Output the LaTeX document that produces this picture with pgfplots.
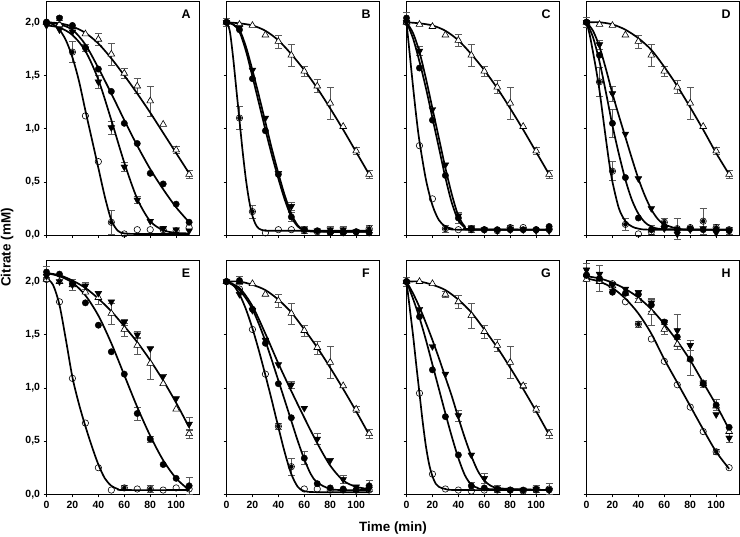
\documentclass[border=0pt]{standalone}
\usepackage{fontspec}
\setmainfont{Liberation Sans}
\usepackage{pgfplots}
\pgfplotsset{compat=1.18}
\definecolor{errc}{gray}{0.35}
\pgfplotsset{
  panel/.style={width=153bp,height=234bp,scale only axis,anchor=north west,
    xmin=0,xmax=118,ymin=0,ymax=2.2,
    xtick={0,20,40,60,80,100}, ytick={0,0.5,1,1.5,2},
    tick pos=left, tick align=outside, major tick length=3bp,
    every tick/.style={black,line width=0.6pt},
    axis line style={line width=0.7pt},
    clip=false,
    ticklabel style={font=\fontsize{10.5}{12}\selectfont\bfseries},
    /pgf/number format/assume math mode=true,
    yticklabel style={/pgf/number format/.cd,fixed,fixed zerofill,precision=1,use comma},
  },
  nox/.style={xticklabels={}}, noy/.style={yticklabels={}},
  oc/.style={only marks,mark=o,mark size=3.2bp,mark options={draw=black,fill=white,line width=0.6pt}},
  fc/.style={only marks,mark=*,mark size=3.2bp,mark options={draw=black,fill=black}},
  dt/.style={only marks,mark=triangle*,mark size=3.9bp,mark options={rotate=180,draw=black,fill=black}},
  ut/.style={only marks,mark=triangle*,mark size=3.9bp,mark options={draw=black,fill=white,line width=0.6pt}},
  fit/.style={black,line width=1.7pt,smooth,no marks},
  errp/.style={only marks,mark=none,error bars/.cd,y dir=both,y explicit,
    error bar style={errc,line width=0.6pt},
    error mark options={rotate=90,errc,mark size=3.6bp,line width=0.6pt}},
}
\newcommand{\plab}[1]{\node[font=\fontsize{12.5}{14}\selectfont\bfseries] at (rel axis cs:0.912,0.944) {#1};}
\begin{document}
\begin{tikzpicture}
\path[use as bounding box] (0,0) rectangle (740bp,-537bp);
% ---------------- A
\begin{axis}[panel,nox,at={(46.5bp,-1bp)}]
\addplot[errp] coordinates {(20,1.72)+-(0,0.1) (50,0.12)+-(0,0.11) (40,1.44)+-(0,0.06) (50,1.01)+-(0,0.06) (60,0.64)+-(0,0.04) (70,0.33)+-(0,0.03) (40,1.84)+-(0,0.06) (50,1.70)+-(0,0.1) (60,1.52)+-(0,0.05) (70,1.40)+-(0,0.07) (80,1.26)+-(0,0.14) (100,0.80)+-(0,0.03) (110,0.57)+-(0,0.04) (10,2.04)+-(0,0.02) (30,1.76)+-(0,0.03) (90,0.06)+-(0,0.02)};
\addplot[fit] coordinates {(0,2.0)(5,1.98)(10,1.93)(15,1.83)(20,1.67)(25,1.45)(30,1.17)(35,0.9)(40,0.63)(45,0.36)(50,0.14)(55,0.04)(60,0.015)(70,0.01)(110,0.01)};
\addplot[fit] coordinates {(0,1.97)(10,1.95)(20,1.88)(30,1.73)(40,1.46)(50,1.08)(60,0.68)(70,0.34)(80,0.13)(90,0.045)(100,0.02)(110,0.015)};
\addplot[fit] coordinates {(0,2.0)(10,1.98)(20,1.93)(30,1.79)(40,1.57)(50,1.33)(60,1.08)(70,0.84)(80,0.62)(90,0.43)(100,0.26)(110,0.12)};
\addplot[fit] coordinates {(0,2.0)(10,1.99)(20,1.96)(30,1.90)(40,1.80)(50,1.66)(60,1.50)(70,1.33)(80,1.15)(90,0.96)(100,0.77)(110,0.58)};
\addplot[ut] coordinates {(0,2.0)(10,1.98)(20,1.96)(30,1.89)(40,1.84)(50,1.70)(60,1.52)(70,1.40)(80,1.26)(90,1.04)(100,0.80)(110,0.57)};
\addplot[fc] coordinates {(0,2.0)(10,2.04)(20,1.97)(30,1.76)(40,1.56)(50,1.35)(60,1.05)(70,0.86)(80,0.58)(90,0.48)(100,0.29)(110,0.12)};
\addplot[dt] coordinates {(0,1.97)(10,1.93)(20,1.91)(30,1.75)(40,1.44)(50,1.01)(60,0.64)(70,0.33)(80,0.13)(90,0.06)(100,0.05)(110,0.04)};
\addplot[oc] coordinates {(0,2.0)(10,1.97)(20,1.72)(30,1.12)(40,0.69)(50,0.12)(60,0.01)(70,0.05)(80,0.05)(90,0.05)(100,0.04)(110,0.07)};
\plab{A}
\end{axis}
% ---------------- B
\begin{axis}[panel,nox,noy,at={(226.5bp,-1bp)}]
\addplot[errp] coordinates {(10,1.10)+-(0,0.11) (20,0.22)+-(0,0.06) (50,0.17)+-(0,0.04) (50,0.27)+-(0,0.04) (0,2.0)+-(0,0.04) (40,1.82)+-(0,0.06) (50,1.69)+-(0,0.1) (60,1.54)+-(0,0.05) (70,1.40)+-(0,0.06) (80,1.24)+-(0,0.15) (100,0.79)+-(0,0.03) (110,0.57)+-(0,0.04) (80,0.05)+-(0,0.03) (90,0.05)+-(0,0.03) (110,0.06)+-(0,0.03) (60,0.05)+-(0,0.03)};
\addplot[fit] coordinates {(0,2.0)(2.5,1.92)(5,1.68)(7.5,1.38)(10,1.08)(12.5,0.78)(15,0.52)(17.5,0.32)(20,0.18)(22.5,0.1)(25,0.06)(30,0.04)(40,0.04)(110,0.04)};
\addplot[fit] coordinates {(0,2.0)(5,1.98)(10,1.91)(15,1.73)(20,1.49)(25,1.24)(30,0.99)(35,0.75)(40,0.53)(45,0.33)(50,0.17)(55,0.08)(60,0.045)(70,0.03)(110,0.03)};
\addplot[fit] coordinates {(0,2.0)(5,1.98)(10,1.93)(15,1.77)(20,1.55)(25,1.31)(30,1.06)(35,0.81)(40,0.58)(45,0.37)(50,0.2)(55,0.09)(60,0.05)(70,0.035)(110,0.03)};
\addplot[fit] coordinates {(0,2.0)(10,1.99)(20,1.97)(30,1.92)(40,1.83)(50,1.70)(60,1.55)(70,1.38)(80,1.19)(90,0.99)(100,0.78)(110,0.57)};
\addplot[ut] coordinates {(0,2.0)(10,1.98)(20,1.97)(30,1.88)(40,1.82)(50,1.69)(60,1.54)(70,1.40)(80,1.24)(90,1.02)(100,0.79)(110,0.57)};
\addplot[fc] coordinates {(0,2.0)(10,1.93)(20,1.47)(30,0.98)(40,0.57)(50,0.17)(60,0.05)(70,0.04)(80,0.02)(90,0.02)(100,0.03)(110,0.02)};
\addplot[dt] coordinates {(0,2.0)(10,1.95)(20,1.55)(30,1.10)(40,0.58)(50,0.27)(60,0.05)(70,0.04)(80,0.05)(90,0.05)(100,0.03)(110,0.03)};
\addplot[oc] coordinates {(0,2.0)(10,1.10)(20,0.22)(30,0.02)(40,0.05)(50,0.05)(60,0.04)(70,0.03)(80,0.03)(90,0.03)(100,0.03)(110,0.06)};
\plab{B}
\end{axis}
% ---------------- C
\begin{axis}[panel,nox,noy,at={(406.5bp,-1bp)}]
\addplot[errp] coordinates {(0,2.04)+-(0,0.05) (10,1.73)+-(0,0.04) (30,0.06)+-(0,0.03) (40,0.16)+-(0,0.05) (50,0.06)+-(0,0.03) (40,1.83)+-(0,0.06) (50,1.69)+-(0,0.1) (60,1.54)+-(0,0.05) (70,1.39)+-(0,0.06) (80,1.24)+-(0,0.15) (100,0.79)+-(0,0.03) (110,0.57)+-(0,0.04) (80,0.07)+-(0,0.02)};
\addplot[fit] coordinates {(0,2.0)(2.5,1.7)(5,1.4)(7.5,1.12)(10,0.88)(15,0.52)(20,0.28)(25,0.14)(30,0.08)(35,0.06)(40,0.05)(110,0.05)};
\addplot[fit] coordinates {(0,2.0)(5,1.85)(10,1.63)(15,1.38)(20,1.1)(25,0.82)(30,0.54)(35,0.3)(40,0.14)(45,0.07)(50,0.05)(110,0.05)};
\addplot[fit] coordinates {(0,2.0)(5,1.9)(10,1.72)(15,1.47)(20,1.19)(25,0.91)(30,0.63)(35,0.38)(40,0.18)(45,0.08)(50,0.055)(110,0.05)};
\addplot[fit] coordinates {(0,2.0)(10,1.99)(20,1.97)(30,1.92)(40,1.83)(50,1.70)(60,1.55)(70,1.38)(80,1.19)(90,0.99)(100,0.78)(110,0.57)};
\addplot[ut] coordinates {(0,2.0)(10,1.98)(20,1.96)(30,1.88)(40,1.83)(50,1.69)(60,1.54)(70,1.39)(80,1.24)(90,1.02)(100,0.79)(110,0.57)};
\addplot[fc] coordinates {(0,2.04)(10,1.57)(20,1.08)(30,0.56)(40,0.16)(50,0.06)(60,0.05)(70,0.05)(80,0.05)(90,0.05)(100,0.05)(110,0.08)};
\addplot[dt] coordinates {(0,2.0)(10,1.73)(20,1.18)(30,0.66)(40,0.18)(50,0.06)(60,0.05)(70,0.04)(80,0.05)(90,0.05)(100,0.04)(110,0.04)};
\addplot[oc] coordinates {(0,2.0)(10,0.84)(20,0.34)(30,0.06)(40,0.05)(50,0.05)(60,0.05)(70,0.04)(80,0.07)(90,0.07)(100,0.05)(110,0.05)};
\plab{C}
\end{axis}
% ---------------- D
\begin{axis}[panel,nox,noy,at={(586.5bp,-1bp)}]
\addplot[errp] coordinates {(10,1.44)+-(0,0.14) (20,0.60)+-(0,0.09) (30,0.10)+-(0,0.06) (70,0.06)+-(0,0.1) (90,0.13)+-(0,0.12) (100,0.07)+-(0,0.03) (20,1.05)+-(0,0.13) (20,1.33)+-(0,0.07) (10,1.79)+-(0,0.04) (0,2.0)+-(0,0.05) (50,0.05)+-(0,0.04) (40,1.82)+-(0,0.06) (50,1.69)+-(0,0.1) (60,1.54)+-(0,0.05) (70,1.39)+-(0,0.06) (80,1.24)+-(0,0.15) (100,0.79)+-(0,0.03) (110,0.57)+-(0,0.04) (60,0.12)+-(0,0.04) (110,0.04)+-(0,0.03)};
\addplot[fit] coordinates {(0,2.0)(2.5,1.88)(5,1.72)(7.5,1.55)(10,1.36)(12.5,1.13)(15,0.9)(17.5,0.68)(20,0.5)(25,0.25)(30,0.13)(35,0.08)(40,0.06)(50,0.05)(110,0.05)};
\addplot[fit] coordinates {(0,2.0)(5,1.86)(10,1.63)(15,1.34)(20,1.03)(25,0.76)(30,0.52)(35,0.33)(40,0.2)(45,0.12)(50,0.08)(60,0.055)(110,0.05)};
\addplot[fit] coordinates {(0,2.0)(5,1.92)(10,1.77)(15,1.56)(20,1.33)(25,1.12)(30,0.92)(35,0.72)(40,0.53)(45,0.37)(50,0.24)(55,0.15)(60,0.1)(70,0.06)(80,0.05)(110,0.05)};
\addplot[fit] coordinates {(0,2.0)(10,2.0)(20,1.98)(30,1.93)(40,1.85)(50,1.74)(60,1.58)(70,1.40)(80,1.20)(90,0.99)(100,0.77)(110,0.57)};
\addplot[ut] coordinates {(0,2.0)(10,1.98)(20,1.97)(30,1.88)(40,1.82)(50,1.69)(60,1.54)(70,1.39)(80,1.24)(90,1.02)(100,0.79)(110,0.57)};
\addplot[fc] coordinates {(0,2.0)(10,1.69)(20,1.05)(30,0.54)(40,0.16)(50,0.05)(60,0.08)(70,0.05)(80,0.06)(90,0.05)(100,0.05)(110,0.04)};
\addplot[dt] coordinates {(0,2.0)(10,1.79)(20,1.33)(30,0.95)(40,0.53)(50,0.25)(60,0.06)(70,0.01)(80,0.05)(90,0.06)(100,0.02)(110,0.04)};
\addplot[oc] coordinates {(0,2.0)(10,1.44)(20,0.60)(30,0.10)(40,0.01)(50,0.03)(60,0.12)(70,0.06)(80,0.07)(90,0.13)(100,0.07)(110,0.05)};
\plab{D}
\end{axis}
% ---------------- E
\begin{axis}[panel,at={(46.5bp,-260.3bp)}]
\addplot[errp] coordinates {(110,0.08)+-(0,0.08) (80,1.23)+-(0,0.15) (110,0.66)+-(0,0.06) (110,0.57)+-(0,0.04) (50,1.70)+-(0,0.1) (60,1.55)+-(0,0.06) (70,1.40)+-(0,0.08) (70,0.76)+-(0,0.06) (80,0.52)+-(0,0.03) (40,1.85)+-(0,0.06) (20,1.97)+-(0,0.05) (30,1.96)+-(0,0.03) (0,2.09)+-(0,0.05) (60,1.62)+-(0,0.03) (70,1.50)+-(0,0.03) (80,0.05)+-(0,0.03) (60,0.06)+-(0,0.02)};
\addplot[fit] coordinates {(0,2.03)(5,1.97)(10,1.78)(15,1.45)(20,1.1)(25,0.85)(30,0.64)(35,0.45)(40,0.28)(45,0.15)(50,0.08)(55,0.05)(60,0.04)(110,0.04)};
\addplot[fit] coordinates {(0,2.08)(10,2.05)(20,1.99)(30,1.87)(40,1.68)(50,1.42)(60,1.12)(70,0.82)(80,0.55)(90,0.32)(100,0.15)(110,0.04)};
\addplot[fit] coordinates {(0,2.08)(10,2.06)(20,2.01)(30,1.94)(40,1.84)(50,1.72)(60,1.58)(70,1.43)(80,1.26)(90,1.07)(100,0.86)(110,0.63)};
\addplot[ut] coordinates {(0,2.02)(10,2.0)(20,1.97)(30,1.90)(40,1.85)(50,1.70)(60,1.55)(70,1.40)(80,1.23)(90,1.04)(100,0.80)(110,0.57)};
\addplot[fc] coordinates {(0,2.09)(10,2.07)(20,1.98)(30,1.80)(40,1.59)(50,1.34)(60,1.13)(70,0.76)(80,0.52)(90,0.28)(100,0.15)(110,0.08)};
\addplot[dt] coordinates {(0,2.05)(10,2.0)(20,1.97)(30,1.96)(40,1.89)(50,1.81)(60,1.62)(70,1.50)(80,1.37)(90,1.11)(100,0.90)(110,0.66)};
\addplot[oc] coordinates {(0,2.02)(10,1.81)(20,1.09)(30,0.67)(40,0.25)(50,0.04)(60,0.06)(70,0.05)(80,0.05)(90,0.04)(100,0.06)(110,0.05)};
\plab{E}
\end{axis}
% ---------------- F
\begin{axis}[panel,noy,at={(226.5bp,-260.3bp)}]
\addplot[errp] coordinates {(10,2.01)+-(0,0.04) (50,0.26)+-(0,0.08) (60,0.34)+-(0,0.06) (70,0.52)+-(0,0.05) (90,0.14)+-(0,0.04) (110,0.08)+-(0,0.05) (40,1.82)+-(0,0.06) (50,1.70)+-(0,0.1) (60,1.54)+-(0,0.05) (70,1.38)+-(0,0.06) (80,1.24)+-(0,0.15) (100,0.80)+-(0,0.03) (110,0.57)+-(0,0.04) (50,1.03)+-(0,0.03) (40,0.64)+-(0,0.03)};
\addplot[fit] coordinates {(0,2.0)(5,1.97)(10,1.88)(15,1.74)(20,1.56)(25,1.35)(30,1.12)(35,0.88)(40,0.63)(45,0.39)(50,0.19)(55,0.07)(60,0.03)(70,0.02)(110,0.02)};
\addplot[fit] coordinates {(0,2.0)(10,1.92)(20,1.74)(30,1.44)(40,1.07)(50,0.69)(55,0.5)(60,0.33)(65,0.19)(70,0.11)(80,0.05)(90,0.04)(110,0.04)};
\addplot[fit] coordinates {(0,2.0)(10,1.94)(20,1.77)(30,1.51)(40,1.23)(50,0.97)(60,0.72)(70,0.48)(80,0.27)(90,0.13)(100,0.07)(110,0.05)};
\addplot[fit] coordinates {(0,2.0)(10,2.0)(20,1.97)(30,1.92)(40,1.83)(50,1.71)(60,1.55)(70,1.38)(80,1.19)(90,0.99)(100,0.78)(110,0.56)};
\addplot[ut] coordinates {(0,2.0)(10,2.0)(20,1.98)(30,1.88)(40,1.82)(50,1.70)(60,1.54)(70,1.38)(80,1.24)(90,1.02)(100,0.80)(110,0.57)};
\addplot[fc] coordinates {(0,2.0)(10,2.01)(20,1.74)(30,1.42)(40,1.04)(50,0.72)(60,0.34)(70,0.10)(80,0.06)(90,0.05)(100,0.04)(110,0.08)};
\addplot[dt] coordinates {(0,2.0)(10,1.88)(20,1.73)(30,1.45)(40,1.22)(50,1.03)(60,0.81)(70,0.52)(80,0.32)(90,0.14)(100,0.07)(110,0.05)};
\addplot[oc] coordinates {(0,2.0)(10,1.93)(20,1.55)(30,1.13)(40,0.64)(50,0.26)(60,0.05)(70,0.05)(80,0.04)(90,0.04)(100,0.04)(110,0.04)};
\plab{F}
\end{axis}
% ---------------- G
\begin{axis}[panel,noy,at={(406.5bp,-260.3bp)}]
\addplot[errp] coordinates {(40,1.81)+-(0,0.06) (50,1.68)+-(0,0.12) (60,1.53)+-(0,0.06) (70,1.40)+-(0,0.06) (80,1.24)+-(0,0.15) (90,1.02)+-(0,0.02) (100,0.80)+-(0,0.03) (110,0.57)+-(0,0.04) (40,0.74)+-(0,0.05) (60,0.15)+-(0,0.05) (110,0.05)+-(0,0.05) (0,2.0)+-(0,0.04) (30,1.88)+-(0,0.03) (50,0.08)+-(0,0.03) (100,0.05)+-(0,0.03) (70,0.05)+-(0,0.03)};
\addplot[fit] coordinates {(0,2.0)(2.5,1.75)(5,1.5)(7.5,1.22)(10,0.95)(12.5,0.68)(15,0.45)(17.5,0.28)(20,0.17)(22.5,0.1)(25,0.07)(30,0.05)(40,0.04)(110,0.04)};
\addplot[fit] coordinates {(0,2.0)(5,1.84)(10,1.66)(15,1.45)(20,1.22)(25,0.99)(30,0.76)(35,0.54)(40,0.34)(45,0.18)(50,0.09)(55,0.06)(60,0.05)(110,0.04)};
\addplot[fit] coordinates {(0,2.0)(5,1.89)(10,1.76)(15,1.61)(20,1.45)(25,1.28)(30,1.1)(35,0.92)(40,0.72)(45,0.53)(50,0.36)(55,0.22)(60,0.13)(65,0.08)(70,0.06)(80,0.05)(110,0.04)};
\addplot[fit] coordinates {(0,2.0)(10,2.0)(20,1.97)(30,1.92)(40,1.83)(50,1.71)(60,1.55)(70,1.38)(80,1.19)(90,0.99)(100,0.78)(110,0.56)};
\addplot[ut] coordinates {(0,2.0)(10,2.0)(20,1.98)(30,1.88)(40,1.81)(50,1.68)(60,1.53)(70,1.40)(80,1.24)(90,1.02)(100,0.80)(110,0.57)};
\addplot[fc] coordinates {(0,2.0)(10,1.67)(20,1.17)(30,0.73)(40,0.37)(50,0.08)(60,0.06)(70,0.05)(80,0.04)(90,0.04)(100,0.05)(110,0.04)};
\addplot[dt] coordinates {(0,1.99)(10,1.74)(20,1.39)(30,1.13)(40,0.74)(50,0.37)(60,0.15)(70,0.05)(80,0.04)(90,0.04)(100,0.05)(110,0.04)};
\addplot[oc] coordinates {(0,2.0)(10,0.95)(20,0.19)(30,0.05)(40,0.04)(50,0.03)(60,0.04)(70,0.04)(80,0.04)(90,0.03)(100,0.04)(110,0.05)};
\plab{G}
\end{axis}
% ---------------- H
\begin{axis}[panel,noy,at={(586.5bp,-260.3bp)}]
\addplot[errp] coordinates {(0,2.11)+-(0,0.06) (10,2.03)+-(0,0.12) (20,1.96)+-(0,0.03) (40,1.88)+-(0,0.04) (40,1.60)+-(0,0.03) (50,1.78)+-(0,0.06) (50,1.71)+-(0,0.12) (60,1.55)+-(0,0.05) (70,1.54)+-(0,0.15) (70,1.41)+-(0,0.05) (80,1.27)+-(0,0.15) (80,1.40)+-(0,0.05) (90,1.04)+-(0,0.03) (100,0.84)+-(0,0.05) (100,0.40)+-(0,0.02) (110,0.53)+-(0,0.04)};
\addplot[fit] coordinates {(0,2.05)(10,2.03)(20,1.99)(30,1.93)(40,1.85)(50,1.74)(60,1.60)(70,1.44)(80,1.26)(90,1.05)(100,0.84)(110,0.61)};
\addplot[fit] coordinates {(0,2.03)(10,2.0)(20,1.94)(30,1.84)(40,1.70)(50,1.51)(60,1.27)(70,1.05)(80,0.83)(90,0.61)(100,0.40)(110,0.24)};
\addplot[ut] coordinates {(0,2.02)(10,2.0)(20,1.96)(30,1.89)(40,1.82)(50,1.71)(60,1.55)(70,1.41)(80,1.27)(90,1.04)(100,0.83)(110,0.59)};
\addplot[fc] coordinates {(0,2.06)(10,2.03)(20,1.90)(30,1.89)(40,1.88)(50,1.78)(60,1.62)(70,1.48)(80,1.27)(90,1.04)(100,0.84)(110,0.63)};
\addplot[dt] coordinates {(0,2.11)(10,2.07)(20,1.97)(30,1.93)(40,1.90)(50,1.80)(60,1.62)(70,1.54)(80,1.40)(90,1.04)(100,0.75)(110,0.53)};
\addplot[oc] coordinates {(0,2.06)(10,2.01)(20,1.98)(30,1.81)(40,1.60)(50,1.46)(60,1.25)(70,1.03)(80,0.82)(90,0.59)(100,0.40)(110,0.25)};
\plab{H}
\end{axis}
\node[rotate=90,font=\fontsize{13.5}{16}\selectfont\bfseries] at (7.2bp,-247.5bp) {Citrate (mM)};
\node[font=\fontsize{13.5}{16}\selectfont\bfseries] at (393bp,-528.5bp) {Time (min)};
\end{tikzpicture}
\end{document}
